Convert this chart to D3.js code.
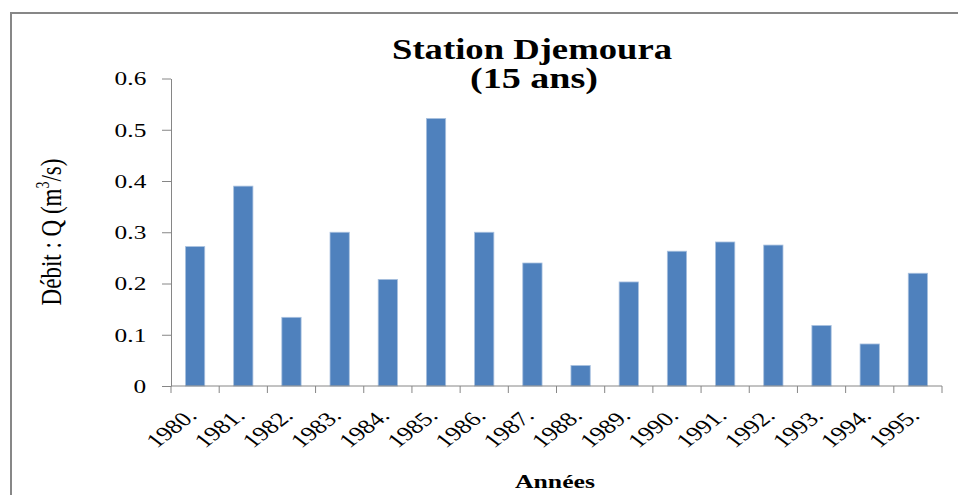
<!DOCTYPE html>
<html>
<head>
<meta charset="utf-8">
<script src="https://cdn.jsdelivr.net/npm/d3@7"></script>
<style>
  body { margin: 0; background: #fff; }
  text { font-family: "Liberation Serif", "Times New Roman", serif; fill: #000; }
</style>
</head>
<body>
<script>
const years = ["1980.", "1981.", "1982.", "1983.", "1984.", "1985.", "1986.", "1987.",
               "1988.", "1989.", "1990.", "1991.", "1992.", "1993.", "1994.", "1995."];
const debit = [0.272, 0.390, 0.134, 0.300, 0.208, 0.522, 0.300, 0.240,
               0.040, 0.203, 0.263, 0.281, 0.275, 0.118, 0.082, 0.220];
const yTicks = [0, 0.1, 0.2, 0.3, 0.4, 0.5, 0.6];

const width = 958,
      height = 495;

// the picture is stretched sideways, text too
const sx = 1.3;
const axisColor = "#868686";

const x = d3.scaleBand()
    .domain(years)
    .range([171, 942])
    .paddingInner(0.6)
    .paddingOuter(0.3);

const y = d3.scaleLinear()
    .domain([0, 0.6])
    .range([386, 78.5]);

const svg = d3.select("body").append("svg")
    .attr("width", width)
    .attr("height", height);

// outer frame
svg.append("rect")
    .attr("x", 11).attr("y", 13)
    .attr("width", 1000).attr("height", 600)
    .attr("fill", "none")
    .attr("stroke", "#878787")
    .attr("stroke-width", 2);

// title
svg.append("text")
    .attr("x", 532).attr("y", 59)
    .attr("text-anchor", "middle")
    .attr("font-size", 29)
    .attr("font-weight", "bold")
    .attr("textLength", 280)
    .attr("lengthAdjust", "spacingAndGlyphs")
    .text("Station Djemoura");

svg.append("text")
    .attr("x", 534).attr("y", 88)
    .attr("text-anchor", "middle")
    .attr("font-size", 29)
    .attr("font-weight", "bold")
    .attr("textLength", 128)
    .attr("lengthAdjust", "spacingAndGlyphs")
    .text("(15 ans)");

// y axis
const yAxis = svg.append("g")
    .attr("transform", "translate(171,0)")
    .call(d3.axisLeft(y)
      .tickValues(yTicks)
      .tickFormat(d => d === 0 ? "0" : d.toFixed(1))
      .tickSize(9)
      .tickSizeOuter(0)
      .tickPadding(10));

yAxis.select(".domain").attr("stroke", axisColor);
yAxis.selectAll(".tick line").attr("stroke", axisColor);
yAxis.selectAll(".tick text")
    .attr("font-size", 19.5)
    .attr("font-family", "Liberation Serif, Times New Roman, serif")
    .attr("transform", `scale(${sx},1)`);

// bars
svg.append("g")
  .selectAll("rect")
  .data(years)
  .join("rect")
    .attr("x", d => x(d))
    .attr("y", (d, i) => y(debit[i]))
    .attr("width", x.bandwidth())
    .attr("height", (d, i) => y(0) - y(debit[i]))
    .attr("fill", "#4f81bd")
    .attr("stroke", "#a9c1df")
    .attr("stroke-width", 0.8);

// x axis line and ticks at category edges
const edges = years.map(d => x(d) - x.step() * x.paddingOuter()).concat([942]);

svg.append("line")
    .attr("x1", 171).attr("x2", 942)
    .attr("y1", y(0)).attr("y2", y(0))
    .attr("stroke", axisColor);

svg.append("g")
  .selectAll("line")
  .data(edges)
  .join("line")
    .attr("x1", d => d).attr("x2", d => d)
    .attr("y1", y(0)).attr("y2", y(0) + 7)
    .attr("stroke", axisColor);

svg.append("g")
  .selectAll("text")
  .data(years)
  .join("text")
    .attr("transform", d => `translate(${x(d) + x.bandwidth() / 2 + 3},${y(0) + 31}) scale(${sx},1) rotate(-45)`)
    .attr("text-anchor", "end")
    .attr("font-size", 20)
    .text(d => d);

// axis titles
const yLabel = svg.append("text")
    .attr("transform", `translate(61,232) scale(${sx},1) rotate(-90)`)
    .attr("text-anchor", "middle")
    .attr("font-size", 23);
yLabel.append("tspan").text("Débit : Q (m");
yLabel.append("tspan").attr("font-size", 14).attr("dy", -9).text("3");
yLabel.append("tspan").attr("dy", 9).text("/s)");

svg.append("text")
    .attr("x", 555).attr("y", 488)
    .attr("text-anchor", "middle")
    .attr("font-size", 19.5)
    .attr("font-weight", "bold")
    .attr("textLength", 80)
    .attr("lengthAdjust", "spacingAndGlyphs")
    .text("Années");
</script>
</body>
</html>
